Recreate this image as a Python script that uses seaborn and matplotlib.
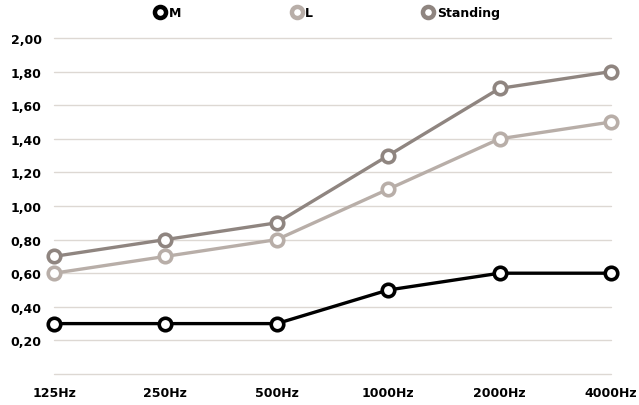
import numpy as np
import pandas as pd
import seaborn as sns
import matplotlib.pyplot as plt
from matplotlib.lines import Line2D

# -----------------------------
# Data
freqs = ["125Hz", "250Hz", "500Hz", "1000Hz", "2000Hz", "4000Hz"]
m_vals = [0.30, 0.30, 0.30, 0.50, 0.60, 0.60]
l_vals = [0.60, 0.70, 0.80, 1.10, 1.40, 1.50]
standing_vals = [0.70, 0.80, 0.90, 1.30, 1.70, 1.80]
series_names = ["M", "L", "Standing"]
colors = {"M": "#000000", "L": "#b8aea8", "Standing": "#8f8580"}
y_ticks = [0.2, 0.4, 0.6, 0.8, 1.0, 1.2, 1.4, 1.6, 1.8, 2.0]

# -----------------------------
# Long-form table
df = pd.DataFrame({
    "freq": freqs * 3,
    "pos": list(range(len(freqs))) * 3,
    "value": m_vals + l_vals + standing_vals,
    "series": ["M"] * 6 + ["L"] * 6 + ["Standing"] * 6,
})

sns.set_style("white")
plt.rcParams["font.family"] = ["DejaVu Sans"]
plt.rcParams["text.color"] = "black"
plt.rcParams["xtick.color"] = "black"
plt.rcParams["ytick.color"] = "black"

fig = plt.figure(figsize=(6.39, 4.06), dpi=100)
ax = fig.add_axes([54 / 639, 1 - 375 / 406, (611 - 54) / 639, (375 - 39) / 406])

# Draw series in reverse so M is on top
for name in ["Standing", "L", "M"]:
    sub = df[df["series"] == name]
    sns.lineplot(data=sub, x="pos", y="value", ax=ax, color=colors[name],
                 linewidth=2.4, marker="o", markersize=9, markerfacecolor="white",
                 markeredgecolor=colors[name], markeredgewidth=2.6,
                 clip_on=False, zorder=3)

ax.set_xlim(0, len(freqs) - 1)
ax.set_ylim(0, 2.0)
ax.set_xticks(range(len(freqs)))
ax.set_xticklabels(freqs)
ax.set_yticks([0] + y_ticks)
ax.set_yticklabels([""] + [f"{v:.2f}".replace(".", ",") for v in y_ticks])
ax.set_xlabel("")
ax.set_ylabel("")
ax.grid(axis="y", color="#ddd8d3", linewidth=1)
ax.grid(axis="x", visible=False)
for gl in ax.get_ygridlines():
    gl.set_clip_on(False)
for s in ax.spines.values():
    s.set_visible(False)
ax.tick_params(axis="both", length=0, labelsize=9, colors="black")
ax.tick_params(axis="y", pad=9)
ax.tick_params(axis="x", pad=9)
for lbl in ax.get_xticklabels() + ax.get_yticklabels():
    lbl.set_fontweight("bold")

# Legend
handles = [Line2D([], [], linestyle="none", marker="o", markersize=8,
                  markerfacecolor="white", markeredgecolor=colors[n],
                  markeredgewidth=3.2) for n in series_names]
leg = fig.legend(handles, series_names, loc="upper center", ncol=3,
                 bbox_to_anchor=(0.507, 1.01), frameon=False,
                 handletextpad=-0.3, columnspacing=8.2,
                 prop={"weight": "bold", "size": 9})
for t in leg.get_texts():
    t.set_color("black")

fig.savefig("out.png", dpi=100)
